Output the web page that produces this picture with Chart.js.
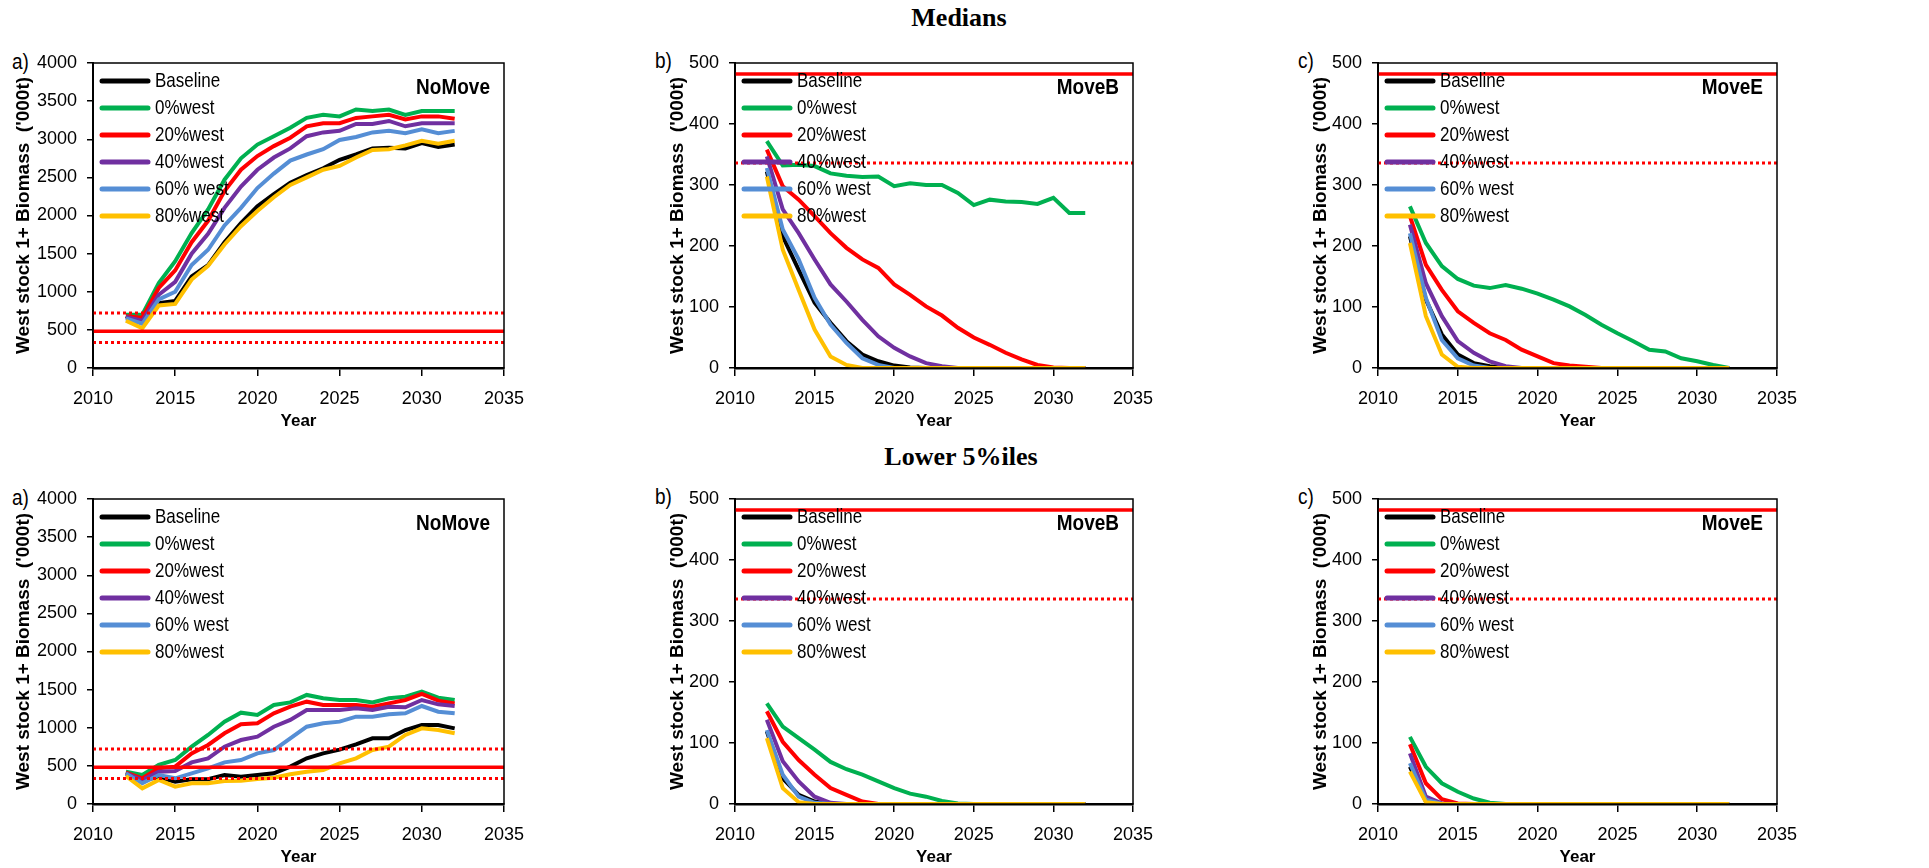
<!DOCTYPE html>
<html lang="en">
<head>
  <meta charset="UTF-8">
  <title>West stock 1+ biomass projections</title>
  <script src="https://cdn.jsdelivr.net/npm/chart.js"></script>
  <style>
    body { margin: 0; width: 1929px; height: 868px; background: #fff; position: relative; overflow: hidden; }
    .panel { position: absolute; }
    .tag { position: absolute; font-family: 'Liberation Sans', Arial, sans-serif; font-size: 19px; line-height: 24px; color: #000; transform: scaleY(1.15); }
    .head { position: absolute; width: 400px; text-align: center; font-family: 'Liberation Serif', serif; font-weight: bold; font-size: 26px; line-height: 30px; color: #000; }
  </style>
</head>
<body>

<div class="head" style="left:759px; top:3px;">Medians</div>
<div class="head" style="left:761px; top:442px;">Lower 5%iles</div>

<div class="tag" style="left:12px; top:50px;">a)</div>
<div class="tag" style="left:655px; top:49px;">b)</div>
<div class="tag" style="left:1298px; top:49px;">c)</div>
<div class="tag" style="left:12px; top:486px;">a)</div>
<div class="tag" style="left:655px; top:485px;">b)</div>
<div class="tag" style="left:1298px; top:485px;">c)</div>

<canvas id="medNoMove" class="panel"></canvas>
<canvas id="medMoveB" class="panel"></canvas>
<canvas id="medMoveE" class="panel"></canvas>
<canvas id="lowNoMove" class="panel"></canvas>
<canvas id="lowMoveB" class="panel"></canvas>
<canvas id="lowMoveE" class="panel"></canvas>

<script>
  // ---- data ----
  const years = [2012, 2013, 2014, 2015, 2016, 2017, 2018, 2019, 2020, 2021, 2022,
                 2023, 2024, 2025, 2026, 2027, 2028, 2029, 2030, 2031, 2032];
  const seriesLabels = ['Baseline', '0%west', '20%west', '40%west', '60% west', '80%west'];
  const xTicks = [2010, 2015, 2020, 2025, 2030, 2035];
  const limitLines = [482, 336, 720];   // solid, dotted, dotted

  // Medians - NoMove
  const medNoMoveBase = [680, 600, 850, 880, 1200, 1350, 1650, 1900, 2120, 2280, 2430, 2530, 2620, 2730, 2800, 2880, 2890, 2880, 2950, 2900, 2930];
  const medNoMove0    = [700, 700, 1115, 1400, 1770, 2080, 2470, 2750, 2930, 3040, 3150, 3280, 3320, 3300, 3390, 3370, 3390, 3320, 3370, 3370, 3370];
  const medNoMove20   = [680, 660, 1050, 1280, 1650, 1930, 2320, 2600, 2780, 2910, 3020, 3170, 3210, 3210, 3280, 3300, 3320, 3260, 3300, 3300, 3270];
  const medNoMove40   = [670, 620, 960, 1130, 1500, 1760, 2100, 2380, 2600, 2760, 2880, 3040, 3090, 3110, 3200, 3200, 3240, 3170, 3210, 3210, 3210];
  const medNoMove60   = [650, 580, 900, 1000, 1350, 1550, 1870, 2100, 2360, 2550, 2720, 2800, 2870, 2990, 3030, 3090, 3110, 3080, 3130, 3080, 3110];
  const medNoMove80   = [620, 520, 820, 840, 1160, 1340, 1620, 1860, 2060, 2240, 2400, 2500, 2600, 2650, 2760, 2860, 2870, 2920, 2980, 2940, 2980];

  // Medians - MoveB
  const medMoveBBase = [322, 216, 161, 107, 74, 44, 22, 11, 4, 1, 0, 0, 0, 0, 0, 0, 0, 0, 0, 0, 0];
  const medMoveB0    = [372, 332, 333, 331, 319, 315, 313, 314, 298, 303, 300, 300, 287, 267, 276, 273, 272, 269, 279, 254, 254];
  const medMoveB20   = [358, 298, 276, 249, 221, 197, 178, 164, 137, 120, 101, 86, 66, 50, 38, 25, 14, 5, 1, 0, 0];
  const medMoveB40   = [347, 260, 221, 178, 137, 109, 79, 52, 33, 19, 8, 3, 0, 0, 0, 0, 0, 0, 0, 0, 0];
  const medMoveB60   = [328, 227, 178, 115, 71, 41, 16, 5, 0, 0, 0, 0, 0, 0, 0, 0, 0, 0, 0, 0, 0];
  const medMoveB80   = [314, 194, 128, 63, 19, 5, 0, 0, 0, 0, 0, 0, 0, 0, 0, 0, 0, 0, 0, 0, 0];

  // Medians - MoveE
  const medMoveEBase = [216, 112, 55, 22, 8, 3, 0, 0, 0, 0, 0, 0, 0, 0, 0, 0, 0, 0, 0, 0, 0];
  const medMoveE0    = [265, 205, 167, 146, 135, 131, 136, 130, 122, 112, 101, 87, 71, 57, 44, 30, 27, 16, 11, 5, 0];
  const medMoveE20   = [249, 169, 128, 93, 74, 57, 46, 30, 19, 8, 4, 2, 0, 0, 0, 0, 0, 0, 0, 0, 0];
  const medMoveE40   = [235, 139, 85, 44, 25, 11, 3, 0, 0, 0, 0, 0, 0, 0, 0, 0, 0, 0, 0, 0, 0];
  const medMoveE60   = [221, 115, 46, 16, 4, 0, 0, 0, 0, 0, 0, 0, 0, 0, 0, 0, 0, 0, 0, 0, 0];
  const medMoveE80   = [205, 85, 22, 2, 0, 0, 0, 0, 0, 0, 0, 0, 0, 0, 0, 0, 0, 0, 0, 0, 0];

  // Lower 5%iles - NoMove
  const lowNoMoveBase = [402, 315, 350, 293, 324, 324, 380, 358, 380, 402, 490, 599, 664, 713, 782, 861, 861, 970, 1036, 1036, 992];
  const lowNoMove0    = [424, 380, 512, 577, 752, 905, 1080, 1198, 1167, 1298, 1333, 1430, 1386, 1364, 1364, 1333, 1386, 1408, 1473, 1395, 1364];
  const lowNoMove20   = [411, 337, 468, 490, 664, 774, 927, 1045, 1058, 1189, 1276, 1342, 1298, 1298, 1298, 1276, 1320, 1364, 1443, 1355, 1320];
  const lowNoMove40   = [402, 315, 424, 433, 546, 599, 752, 839, 883, 1014, 1102, 1233, 1233, 1233, 1255, 1233, 1276, 1268, 1364, 1307, 1285];
  const lowNoMove60   = [402, 271, 380, 337, 402, 468, 546, 577, 664, 708, 861, 1014, 1058, 1080, 1145, 1145, 1176, 1189, 1285, 1211, 1189];
  const lowNoMove80   = [367, 205, 315, 227, 271, 271, 302, 306, 328, 345, 389, 424, 446, 533, 599, 708, 752, 905, 992, 970, 927];

  // Lower 5%iles - MoveB
  const lowMoveBBase = [119, 42, 15, 4, 0, 0, 0, 0, 0, 0, 0, 0, 0, 0, 0, 0, 0, 0, 0, 0, 0];
  const lowMoveB0    = [165, 127, 108, 89, 69, 57, 48, 37, 26, 17, 12, 5, 1, 0, 0, 0, 0, 0, 0, 0, 0];
  const lowMoveB20   = [152, 102, 72, 48, 26, 15, 4, 0, 0, 0, 0, 0, 0, 0, 0, 0, 0, 0, 0, 0, 0];
  const lowMoveB40   = [138, 70, 37, 12, 2, 0, 0, 0, 0, 0, 0, 0, 0, 0, 0, 0, 0, 0, 0, 0, 0];
  const lowMoveB60   = [121, 48, 12, 2, 0, 0, 0, 0, 0, 0, 0, 0, 0, 0, 0, 0, 0, 0, 0, 0, 0];
  const lowMoveB80   = [108, 26, 3, 0, 0, 0, 0, 0, 0, 0, 0, 0, 0, 0, 0, 0, 0, 0, 0, 0, 0];

  // Lower 5%iles - MoveE
  const lowMoveEBase = [61, 4, 0, 0, 0, 0, 0, 0, 0, 0, 0, 0, 0, 0, 0, 0, 0, 0, 0, 0, 0];
  const lowMoveE0    = [110, 61, 34, 20, 9, 2, 0, 0, 0, 0, 0, 0, 0, 0, 0, 0, 0, 0, 0, 0, 0];
  const lowMoveE20   = [98, 34, 8, 1, 0, 0, 0, 0, 0, 0, 0, 0, 0, 0, 0, 0, 0, 0, 0, 0, 0];
  const lowMoveE40   = [83, 12, 1, 0, 0, 0, 0, 0, 0, 0, 0, 0, 0, 0, 0, 0, 0, 0, 0, 0, 0];
  const lowMoveE60   = [67, 7, 0, 0, 0, 0, 0, 0, 0, 0, 0, 0, 0, 0, 0, 0, 0, 0, 0, 0, 0];
  const lowMoveE80   = [53, 3, 0, 0, 0, 0, 0, 0, 0, 0, 0, 0, 0, 0, 0, 0, 0, 0, 0, 0, 0];

  // ---- styling ----
  const colors = ['#000000', '#00B050', '#FF0000', '#7030A0', '#558ED5', '#FFC000'];
  const sans = "'Liberation Sans', Arial, sans-serif";

  // text slightly stretched vertically, like the original figure
  function tallText(ctx, text, x, y, sy) {
    ctx.save();
    ctx.translate(x, y);
    ctx.scale(1, sy);
    ctx.fillText(text, 0, 0);
    ctx.restore();
  }

  // draws the plot frame, the in-plot legend and the scenario name
  const insideLegend = {
    id: 'insideLegend',
    afterDatasetsDraw(chart, args, opts) {
      const { ctx, chartArea: a } = chart;
      ctx.save();
      ctx.strokeStyle = '#000';
      ctx.lineWidth = 1.5;
      ctx.strokeRect(a.left, a.top, a.right - a.left, a.bottom - a.top);

      ctx.font = '17px ' + sans;
      ctx.textBaseline = 'middle';
      ctx.lineCap = 'round';
      let row = 0;
      chart.data.datasets.forEach(ds => {
        if (ds.isLimit) return;
        const y = a.top + 18 + row * 27;
        ctx.strokeStyle = ds.borderColor;
        ctx.lineWidth = 5;
        ctx.beginPath();
        ctx.moveTo(a.left + 9, y);
        ctx.lineTo(a.left + 55, y);
        ctx.stroke();
        ctx.fillStyle = '#000';
        tallText(ctx, ds.label, a.left + 62, y + 1, 1.15);
        row++;
      });

      ctx.font = 'bold 19px ' + sans;
      ctx.textAlign = 'right';
      tallText(ctx, opts.name, a.right - 14, a.top + 25, 1.15);
      ctx.restore();
    }
  };

  function makePanel(id, plotLeft, plotTop, plotWidth, yMax, yStep, name, seriesData, titleGap) {
    const canvas = document.getElementById(id);
    canvas.width = 93 + plotWidth + 40;
    canvas.height = 30 + 305 + 64;
    canvas.style.left = (plotLeft - 93) + 'px';
    canvas.style.top = (plotTop - 30) + 'px';

    const datasets = seriesData.map((vals, i) => ({
      label: seriesLabels[i],
      data: years.map((yr, j) => ({ x: yr, y: vals[j] })),
      borderColor: colors[i],
      backgroundColor: colors[i],
      borderWidth: 4,
      pointRadius: 0,
      tension: 0,
      order: 8 - i,
    }));
    limitLines.forEach((v, k) => {
      datasets.push({
        label: 'limit',
        isLimit: true,
        data: [{ x: xTicks[0], y: v }, { x: xTicks[xTicks.length - 1], y: v }],
        borderColor: '#FF0000',
        borderWidth: k === 0 ? 3.5 : 3,
        borderDash: k === 0 ? [] : [3, 3],
        pointRadius: 0,
        order: 1,
      });
    });

    return new Chart(canvas, {
      type: 'line',
      data: { datasets },
      options: {
        responsive: false,
        animation: false,
        layout: { padding: { top: 30, right: 40, left: 0, bottom: 0 } },
        scales: {
          x: {
            type: 'linear',
            min: xTicks[0],
            max: xTicks[xTicks.length - 1],
            afterBuildTicks: scale => { scale.ticks = xTicks.map(v => ({ value: v })); },
            afterFit: scale => { scale.height = 64; },
            grid: { drawOnChartArea: false, drawTicks: true, tickLength: 8, color: '#000', lineWidth: 1.5 },
            border: { display: true, color: '#000', width: 2.5 },
            ticks: { color: '#000', padding: 12, maxRotation: 0, font: { family: sans, size: 18 },
                     callback: v => String(v) },
            title: { display: true, text: 'Year', color: '#000', padding: { top: 0, bottom: 0 },
                     font: { family: sans, size: 17, weight: 'bold' } },
          },
          y: {
            min: 0,
            max: yMax,
            afterFit: scale => { scale.width = 93; },
            grid: { drawOnChartArea: false, drawTicks: true, tickLength: 6, color: '#000', lineWidth: 1.5 },
            border: { display: true, color: '#000', width: 2 },
            ticks: { stepSize: yStep, color: '#000', padding: 10, font: { family: sans, size: 18 },
                     callback: v => String(v) },
            title: { display: true, text: "West stock 1+ Biomass  ('000t)", color: '#000',
                     padding: { top: titleGap, bottom: 0 },
                     font: { family: sans, size: 19, weight: 'bold' } },
          },
        },
        plugins: {
          legend: { display: false },
          tooltip: { enabled: false },
          insideLegend: { name },
        },
      },
      plugins: [insideLegend],
    });
  }

  makePanel('medNoMove', 93, 63, 411, 4000, 500, 'NoMove',
    [medNoMoveBase, medNoMove0, medNoMove20, medNoMove40, medNoMove60, medNoMove80], 12);
  makePanel('medMoveB', 735, 63, 398, 500, 100, 'MoveB',
    [medMoveBBase, medMoveB0, medMoveB20, medMoveB40, medMoveB60, medMoveB80], 24);
  makePanel('medMoveE', 1378, 63, 399, 500, 100, 'MoveE',
    [medMoveEBase, medMoveE0, medMoveE20, medMoveE40, medMoveE60, medMoveE80], 24);
  makePanel('lowNoMove', 93, 499, 411, 4000, 500, 'NoMove',
    [lowNoMoveBase, lowNoMove0, lowNoMove20, lowNoMove40, lowNoMove60, lowNoMove80], 12);
  makePanel('lowMoveB', 735, 499, 398, 500, 100, 'MoveB',
    [lowMoveBBase, lowMoveB0, lowMoveB20, lowMoveB40, lowMoveB60, lowMoveB80], 24);
  makePanel('lowMoveE', 1378, 499, 399, 500, 100, 'MoveE',
    [lowMoveEBase, lowMoveE0, lowMoveE20, lowMoveE40, lowMoveE60, lowMoveE80], 24);
</script>
</body>
</html>
